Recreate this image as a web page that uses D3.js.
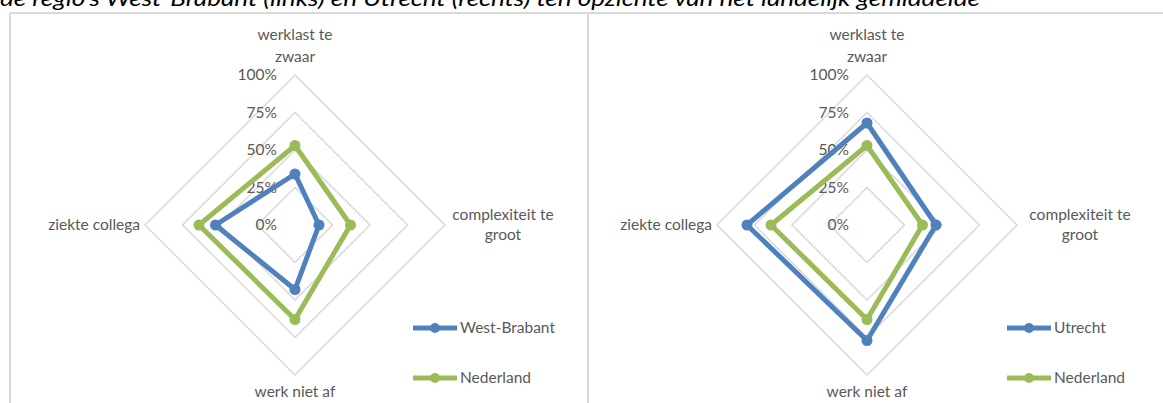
<!DOCTYPE html>
<html>
<head>
<meta charset="utf-8">
<title>Radar West-Brabant / Utrecht</title>
<style>
body { margin: 0; background: #fff; }
.ring { fill: none; stroke: #d9d9d9; stroke-width: 1.5px; }
.frame { stroke: #d9d9d9; stroke-width: 2px; }
.lbl { font-family: Lato, "Open Sans", sans-serif; font-size: 15.5px; fill: #595959; }
.title { font-family: Lato, "Open Sans", sans-serif; font-style: italic; font-size: 22px; fill: #000; }
</style>
</head>
<body>
<script src="https://cdn.jsdelivr.net/npm/d3@7"></script>
<script>

var width = 1163, height = 403;

// axes, clockwise from the top
var axes = [["werklast te", "zwaar"], ["complexiteit te", "groot"], ["werk niet af"], ["ziekte collega"]];
var ticks = [0, 25, 50, 75, 100];

// percentages per axis
var westBrabant = [34, 16, 43, 53];
var utrecht = [68, 46, 77, 80];
var nederland = [53, 37, 63, 64];

var blue = "#4f81bd", green = "#9bbb59";

var svg = d3.select("body").append("svg")
    .attr("width", width)
    .attr("height", height);

svg.append("text")
    .attr("class", "title")
    .attr("x", 0).attr("y", 6)
    .attr("textLength", 980)
    .attr("lengthAdjust", "spacingAndGlyphs")
    .text("de regio's West-Brabant (links) en Utrecht (rechts) ten opzichte van het landelijk gemiddelde");

// chart frames
svg.append("line").attr("class", "frame").attr("x1", 10).attr("x2", width).attr("y1", 13).attr("y2", 13);
svg.append("line").attr("class", "frame").attr("x1", 10).attr("x2", 10).attr("y1", 13).attr("y2", height);
svg.append("line").attr("class", "frame").attr("x1", 588).attr("x2", 588).attr("y1", 13).attr("y2", height);

var R = 150;
var r = d3.scaleLinear().domain([0, 100]).range([0, R]);
var angle = d3.scaleLinear().domain([0, axes.length]).range([0, 2 * Math.PI]);

var radar = d3.lineRadial()
    .angle(function(d, i) { return angle(i); })
    .radius(function(d) { return r(d); })
    .curve(d3.curveLinearClosed);

function drawRadar(cx, cy, series, labelX, legendX) {
	var g = svg.append("g").attr("transform", "translate(" + cx + "," + cy + ")");

	// rings
	ticks.slice(1).forEach(function(t) {
		g.append("path")
			.attr("class", "ring")
			.attr("d", radar(axes.map(function() { return t; })));
	});

	// tick labels
	g.selectAll(".tick")
		.data(ticks)
	.enter().append("text")
		.attr("class", "lbl")
		.attr("x", -18)
		.attr("y", function(d) { return -r(d); })
		.attr("dy", "0.35em")
		.attr("text-anchor", "end")
		.text(function(d) { return d + "%"; });

	// series
	series.forEach(function(s) {
		g.append("path")
			.attr("d", radar(s.values))
			.attr("fill", "none")
			.attr("stroke", s.color)
			.attr("stroke-width", 5)
			.attr("stroke-linejoin", "round");
		g.selectAll(null)
			.data(s.values)
		.enter().append("circle")
			.attr("cx", function(d, i) { return r(d) * Math.sin(angle(i)); })
			.attr("cy", function(d, i) { return -r(d) * Math.cos(angle(i)); })
			.attr("r", 5.5)
			.attr("fill", s.color);
	});

	// axis labels
	var top = g.append("text").attr("class", "lbl").attr("text-anchor", "middle");
	top.append("tspan").attr("x", 0).attr("y", -185).text(axes[0][0]);
	top.append("tspan").attr("x", 0).attr("y", -163).text(axes[0][1]);

	var right = g.append("text").attr("class", "lbl").attr("text-anchor", "middle");
	right.append("tspan").attr("x", labelX).attr("y", -5).text(axes[1][0]);
	right.append("tspan").attr("x", labelX).attr("y", 15).text(axes[1][1]);

	g.append("text").attr("class", "lbl")
		.attr("text-anchor", "middle")
		.attr("x", 0).attr("y", 172)
		.text(axes[2][0]);

	g.append("text").attr("class", "lbl")
		.attr("text-anchor", "end")
		.attr("x", -155).attr("y", 5)
		.text(axes[3][0]);

	// legend
	series.forEach(function(s, i) {
		var ly = 103 + i * 50;
		g.append("line")
			.attr("x1", legendX).attr("x2", legendX + 44)
			.attr("y1", ly).attr("y2", ly)
			.attr("stroke", s.color).attr("stroke-width", 5);
		g.append("circle")
			.attr("cx", legendX + 22).attr("cy", ly).attr("r", 5)
			.attr("fill", s.color);
		g.append("text").attr("class", "lbl")
			.attr("x", legendX + 47).attr("y", ly)
			.attr("dy", "0.35em")
			.text(s.name);
	});
}

drawRadar(295, 225, [
	{name: "West-Brabant", values: westBrabant, color: blue},
	{name: "Nederland", values: nederland, color: green}
], 208, 118);

drawRadar(867, 225, [
	{name: "Utrecht", values: utrecht, color: blue},
	{name: "Nederland", values: nederland, color: green}
], 213, 140);

</script>
</body>
</html>
